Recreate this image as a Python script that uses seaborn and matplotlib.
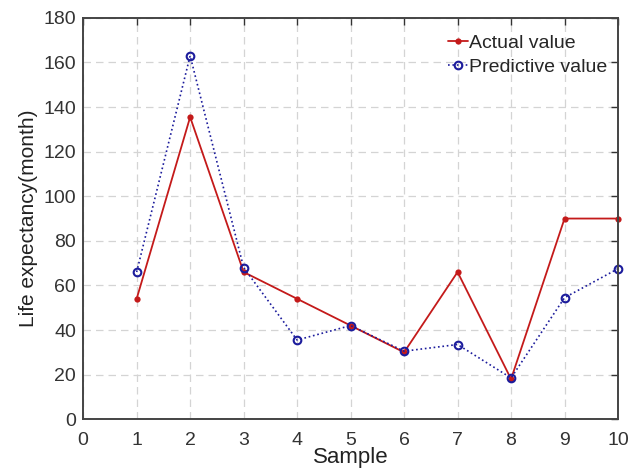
import numpy as np
import pandas as pd
import seaborn as sns
import matplotlib.pyplot as plt

# sample index and the two series
samples = [1, 2, 3, 4, 5, 6, 7, 8, 9, 10]
actual = [54, 135.5, 66, 54, 42, 30, 66, 18, 90, 90]
predictive = [66, 163, 68, 35.5, 42, 30.5, 33.5, 18.5, 54.5, 67.5]

x_ticks = list(range(0, 11))
y_ticks = list(range(0, 181, 20))

df = pd.DataFrame({'Sample': samples, 'Actual value': actual, 'Predictive value': predictive})

sns.set_style('white')
plt.rcParams['font.family'] = ['Liberation Sans', 'DejaVu Sans']

fig = plt.figure(figsize=(6.3, 4.71), dpi=100)
ax = fig.add_axes([0.132, 0.110, 0.849, 0.852])

sns.lineplot(data=df, x='Sample', y='Actual value', ax=ax, color='#c41a1a',
             linewidth=1.3, marker='o', markersize=4.5, markeredgewidth=0,
             label='Actual value', clip_on=False)
sns.lineplot(data=df, x='Sample', y='Predictive value', ax=ax, color='#1c1c9c',
             linewidth=1.2, linestyle=':', marker='o', markersize=5.5,
             markerfacecolor='none', markeredgecolor='#1c1c9c', markeredgewidth=1.5,
             label='Predictive value', clip_on=False)

ax.set_xlim(0, 10)
ax.set_ylim(0, 180)
ax.set_xticks(x_ticks)
ax.set_yticks(y_ticks)
ax.grid(True, linestyle=(0, (6, 4)), color='#d4d4d4', linewidth=0.9)
ax.tick_params(direction='in', length=5, width=1, top=True, right=True,
               labelsize=14, colors='#333333')
ax.tick_params(axis='x', pad=9)
ax.tick_params(axis='y', pad=5)
for s in ax.spines.values():
    s.set_visible(True)
    s.set_color('#444444')
    s.set_linewidth(1.4)

ax.set_xlabel('Sample', fontsize=16, labelpad=-1, color='#222222')
ax.set_ylabel('Life expectancy(month)', fontsize=15, labelpad=4, color='#222222')

ax.legend(loc='upper right', bbox_to_anchor=(1.0, 0.985), frameon=False,
          fontsize=14, handlelength=1.0, handletextpad=0.08, labelspacing=0.3,
          borderaxespad=0.2, borderpad=0.35)

fig.savefig('out.png', dpi=100)
